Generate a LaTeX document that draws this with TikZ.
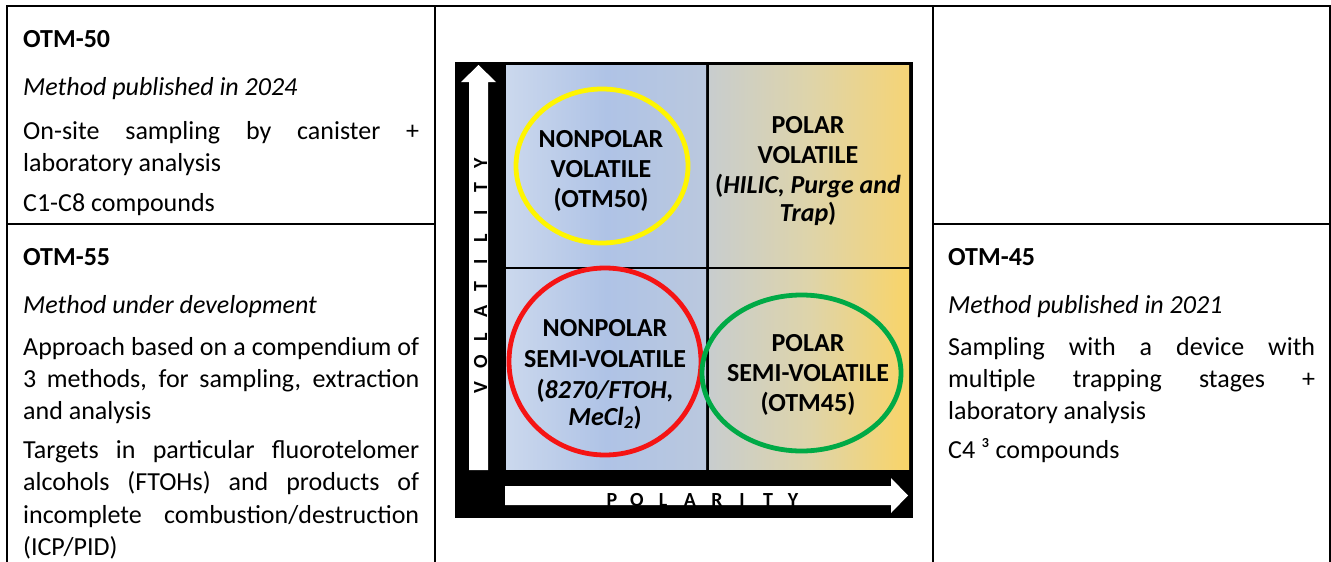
\documentclass[tikz,border=0pt]{standalone}
\usepackage{fontspec}
\setmainfont{Carlito}
\definecolor{blueL}{RGB}{203,216,237}
\definecolor{blueM}{RGB}{175,195,230}
\definecolor{blueR}{RGB}{186,200,222}
\definecolor{greyL}{RGB}{200,205,206}
\definecolor{goldM}{RGB}{222,212,170}
\definecolor{goldR}{RGB}{245,212,118}
\definecolor{goldRR}{RGB}{249,212,104}
\definecolor{ellY}{RGB}{255,245,0}
\definecolor{ellR}{RGB}{245,20,20}
\definecolor{ellG}{RGB}{0,170,70}
\tikzset{
  cell/.style={anchor=base west, inner sep=0pt, font=\fontsize{26}{32}\selectfont},
  quad/.style={anchor=base, inner sep=0pt, font=\fontsize{26}{30}\selectfont\bfseries},
  axl/.style={anchor=base, inner sep=0pt, font=\fontsize{20}{20}\selectfont\bfseries},
  grid/.style={line width=2pt, black},
  ring/.style={line width=4.8pt}
}
\begin{document}
\begin{tikzpicture}[x=1pt,y=-1pt]
\useasboundingbox (0,0) rectangle (1331,562);
% table lines
\draw[grid] (7,6) -- (1331,6);
\draw[grid] (7,5) -- (7,562);
\draw[grid] (435,5) -- (435,562);
\draw[grid] (933,5) -- (933,562);
\draw[grid] (1330,5) -- (1330,562);
\draw[grid] (7,224) -- (435,224);
\draw[grid] (933,224) -- (1330,224);

% left column, top
\node[cell] (t1) at (23,47) {\bfseries OTM-50};
\node[cell] (t2) at (23,95) {\itshape Method published in 2024};
\node[cell] (t3) at (23,139) {\makebox[396pt][s]{On-site sampling by canister +}};
\node[cell] (t4) at (23,171) {laboratory analysis};
\node[cell] (t5) at (23,211) {C1-C8 compounds};

% left column, bottom
\node[cell] (b1) at (23,265) {\bfseries OTM-55};
\node[cell] (b2) at (23,313) {\itshape Method under development};
\node[cell] (b3) at (23,355) {\makebox[396pt][s]{Approach based on a compendium of}};
\node[cell] (b4) at (23,387) {\makebox[396pt][s]{3 methods, for sampling, extraction}};
\node[cell] (b5) at (23,419) {and analysis};
\node[cell] (b6) at (23,458) {\makebox[396pt][s]{Targets in particular fluorotelomer}};
\node[cell] (b7) at (23,490) {\makebox[396pt][s]{alcohols (FTOHs) and products of}};
\node[cell] (b8) at (23,523) {\makebox[396pt][s]{incomplete combustion/destruction}};
\node[cell] (b9) at (23,555) {(ICP/PID)};

% right column
\node[cell] (r1) at (948,265) {\bfseries OTM-45};
\node[cell] (r2) at (948,313) {\itshape Method published in 2021};
\node[cell] (r3) at (948,355) {\makebox[367pt][s]{Sampling with a device with}};
\node[cell] (r4) at (948,387) {\makebox[367pt][s]{multiple trapping stages +}};
\node[cell] (r5) at (948,419) {laboratory analysis};
\node[cell] (r6) at (948,458) {C4 ³ compounds};

% middle picture
\fill[black] (455,62) rectangle (913,518);
\shade[left color=blueL, right color=blueR, middle color=blueM] (506,65) rectangle (706,266);
\shade[left color=blueL, right color=blueR, middle color=blueM] (506,269) rectangle (706,469);
\shade[left color=greyL, right color=goldR, middle color=goldM] (709,65) rectangle (909,266);
\shade[left color=greyL, right color=goldRR, middle color=goldM] (709,269) rectangle (909,469);

% arrows
\fill[white] (469,470) -- (469,82) -- (461,82) -- (478.5,65) -- (496,82) -- (488,82) -- (488,470) -- cycle;
\fill[white] (505,486) -- (891,486) -- (891,478) -- (908,495.5) -- (891,513) -- (891,505) -- (505,505) -- cycle;

% axis letters
\foreach \c/\yy [count=\i] in {V/388,O/362,L/337,A/311,T/287,I/262,L/238,I/213,T/188,Y/163}
  \node[axl, rotate=90] (v\i) at (487,\yy) {\c};
\foreach \c/\xx [count=\i] in {P/612,O/637,L/663,A/690,R/717,I/742,T/768,Y/793}
  \node[axl] (p\i) at (\xx,506) {\c};

% ellipses
\draw[ring, ellY] (602,166) ellipse [x radius=86pt, y radius=77pt];
\draw[ring, ellR] (605,361.5) ellipse [x radius=96pt, y radius=93.5pt];
\draw[ring, ellG] (801.5,373) ellipse [x radius=99.5pt, y radius=78pt];

% quadrant texts
\node[quad] (q1a) at (601,147) {NONPOLAR};
\node[quad] (q1b) at (601,177) {VOLATILE};
\node[quad] (q1c) at (601,207) {(OTM50)};

\node[quad] (q2a) at (808,133) {POLAR};
\node[quad] (q2b) at (808,163) {VOLATILE};
\node[quad] (q2c) at (808,193) {(\textit{HILIC, Purge and}};
\node[quad] (q2d) at (808,221) {\textit{Trap})};

\node[quad] (q3a) at (605,336) {NONPOLAR};
\node[quad] (q3b) at (605,367) {SEMI-VOLATILE};
\node[quad] (q3c) at (605,398) {(\textit{8270/FTOH,}};
\node[quad] (q3d) at (605,425) {\textit{MeCl\textsubscript{2}})};

\node[quad] (q4a) at (808,351) {POLAR};
\node[quad] (q4b) at (808,381) {SEMI-VOLATILE};
\node[quad] (q4c) at (808,411) {(OTM45)};
\end{tikzpicture}
\end{document}
